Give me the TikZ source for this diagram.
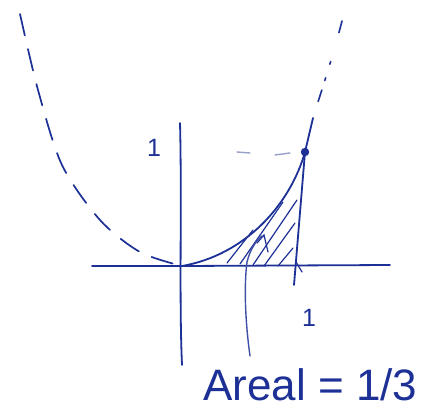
\documentclass[tikz,border=0pt]{standalone}
\usepackage{fontspec}
\setmainfont{Liberation Sans}
\definecolor{penblue}{RGB}{28,48,150}
\definecolor{paleblue}{RGB}{150,160,200}
\tikzset{
  pen/.style={draw=penblue, line width=1.8pt, line cap=round, line join=round},
  thinpen/.style={draw=penblue, line width=1.2pt, line cap=round},
  dashpen/.style={draw=penblue, line width=1.7pt, line cap=round, dash pattern=on 22pt off 14pt},
  faint/.style={draw=paleblue, line width=1.4pt, line cap=round},
  lbl/.style={text=penblue, font=\fontsize{25}{25}\selectfont, inner sep=0pt},
}
\begin{document}
\begin{tikzpicture}[x=1pt,y=-1pt]
\useasboundingbox (0,0) rectangle (433,412);
% key points
\coordinate (O) at (182,266);
\coordinate (P) at (305,152);
\coordinate (X1) at (295,266);
\coordinate (xl) at (92,266);
\coordinate (xr) at (390,265);
\coordinate (yt) at (180,123);
\coordinate (yb) at (182,365);
% axes
\draw[pen] (xl) -- (O) -- (xr);
\draw[pen] (yt) .. controls (182,200) and (179,300) .. (yb);
% dashed parabola, left branch
\draw[dashpen] plot[smooth] coordinates {(20,14) (38,90) (62,165) (100,220) (140,252) (182,266)};
% right branch dashed top
\draw[penblue, line width=1.6pt, line cap=round, dash pattern=on 12pt off 30pt on 3pt off 14pt on 3pt off 10pt]
  (342,21) .. controls (332,60) and (320,95) .. (313,118);
% solid parabola piece
\draw[pen] (O) .. controls (245,255) and (290,205) .. (P) -- (313,118);
% vertical at x=1
\draw[pen] (P) -- (294,285);
\draw[thinpen] (296,262) -- (302,272);
% dot
\fill[penblue] (P) circle (4.2pt);
% faint dashed level line
\draw[faint] (237,152) -- (250,153);
\draw[faint] (275,155) -- (290,153);
% hatching
\draw[thinpen] (227,263) -- (253,230);
\draw[thinpen] (240,264) -- (283,202);
\draw[thinpen] (253,265) -- (297,200);
\draw[thinpen] (264,266) -- (295,223);
\draw[thinpen] (278,266) -- (293,248);
\draw[thinpen] (257,243) -- (264,235) -- (268,252);
% extra curve crossing axis
\draw[draw=penblue!85, line width=1.4pt, line cap=round] (250,356) .. controls (245,320) and (244,285) .. (247,262) .. controls (250,250) and (255,242) .. (262,236);
% labels
\node[lbl] (one_y) at (154,148) {1};
\node[lbl] (one_x) at (309,318) {1};
\node[text=penblue, font=\fontsize{44}{44}\selectfont, inner sep=0pt, anchor=base west] (area) at (203,400) {Areal = 1/3};
\end{tikzpicture}
\end{document}
